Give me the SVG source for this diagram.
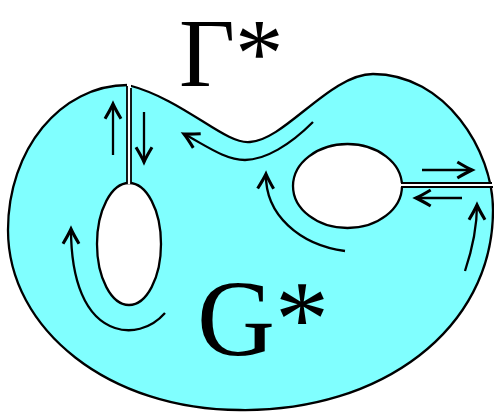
<svg xmlns="http://www.w3.org/2000/svg" width="494" height="414" viewBox="0 0 494 414">
<defs>
<style>
.region{fill:#80ffff;stroke:#000;stroke-width:2.3}
.hole{fill:#fff;stroke:#000;stroke-width:2.3}
.cut{fill:#fff;stroke:none}
.edge{stroke:#000;stroke-width:1.8;fill:none}
.arr{stroke:#000;stroke-width:2.3;fill:none;marker-end:url(#ah)}
.lbl{font-family:"Liberation Serif","Times New Roman",serif;font-size:108px;fill:#000}
</style>
<marker id="ah" markerUnits="userSpaceOnUse" markerWidth="24" markerHeight="24" refX="0" refY="0" viewBox="-14 -9 16 18" orient="auto">
<path d="M-11,-6 Q-4,-1.8 0,0 Q-4,1.8 -11,6" stroke="#000" stroke-width="2.3" fill="none"/>
</marker>
</defs>
<g id="surface">
<path class="region" d="M128,85 C60,85 8,150 8,230 C8,330 110,410 240,410 C380,412 493,330 493,210 C493,150 445,74 373,74 C330,74 285,140 250,142 C225,145 185,100 128,85 Z"/>
<ellipse id="hole-left" class="hole" cx="129" cy="244" rx="32" ry="61"/>
<ellipse id="hole-right" class="hole" cx="347.5" cy="186" rx="54.5" ry="42"/>
</g>
<g id="slit-left">
<rect class="cut" x="127" y="80" width="4" height="104"/>
<line class="edge" x1="127" y1="86" x2="127" y2="184"/>
<line class="edge" x1="131" y1="88" x2="131" y2="184"/>
</g>
<g id="slit-right">
<rect class="cut" x="400" y="183" width="94" height="4"/>
<line class="edge" x1="401" y1="183" x2="492" y2="183"/>
<line class="edge" x1="401" y1="187" x2="493" y2="187"/>
</g>
<g id="connectors">
<path class="arr" d="M113,155 L113,104"/>
<path class="arr" d="M144,112 L144,162"/>
<path class="arr" d="M313,122 C290,145 265,160 245,160 C225,160 205,145 184,134"/>
<path class="arr" d="M345,251 C300,245 265,215 266,174"/>
<path class="arr" d="M422,170 L472,170"/>
<path class="arr" d="M462,198 L416,198"/>
<path class="arr" d="M465,271 C472,250 477,230 477,205"/>
<path class="arr" d="M165,313 C150,330 130,333 115,328 C85,318 71,280 71,229"/>
</g>
<g id="labels">
<text id="gamma" class="lbl" x="179" y="86" style="font-size:97px">Γ*</text>
<text id="g" class="lbl" x="197" y="355">G*</text>
</g>
</svg>
